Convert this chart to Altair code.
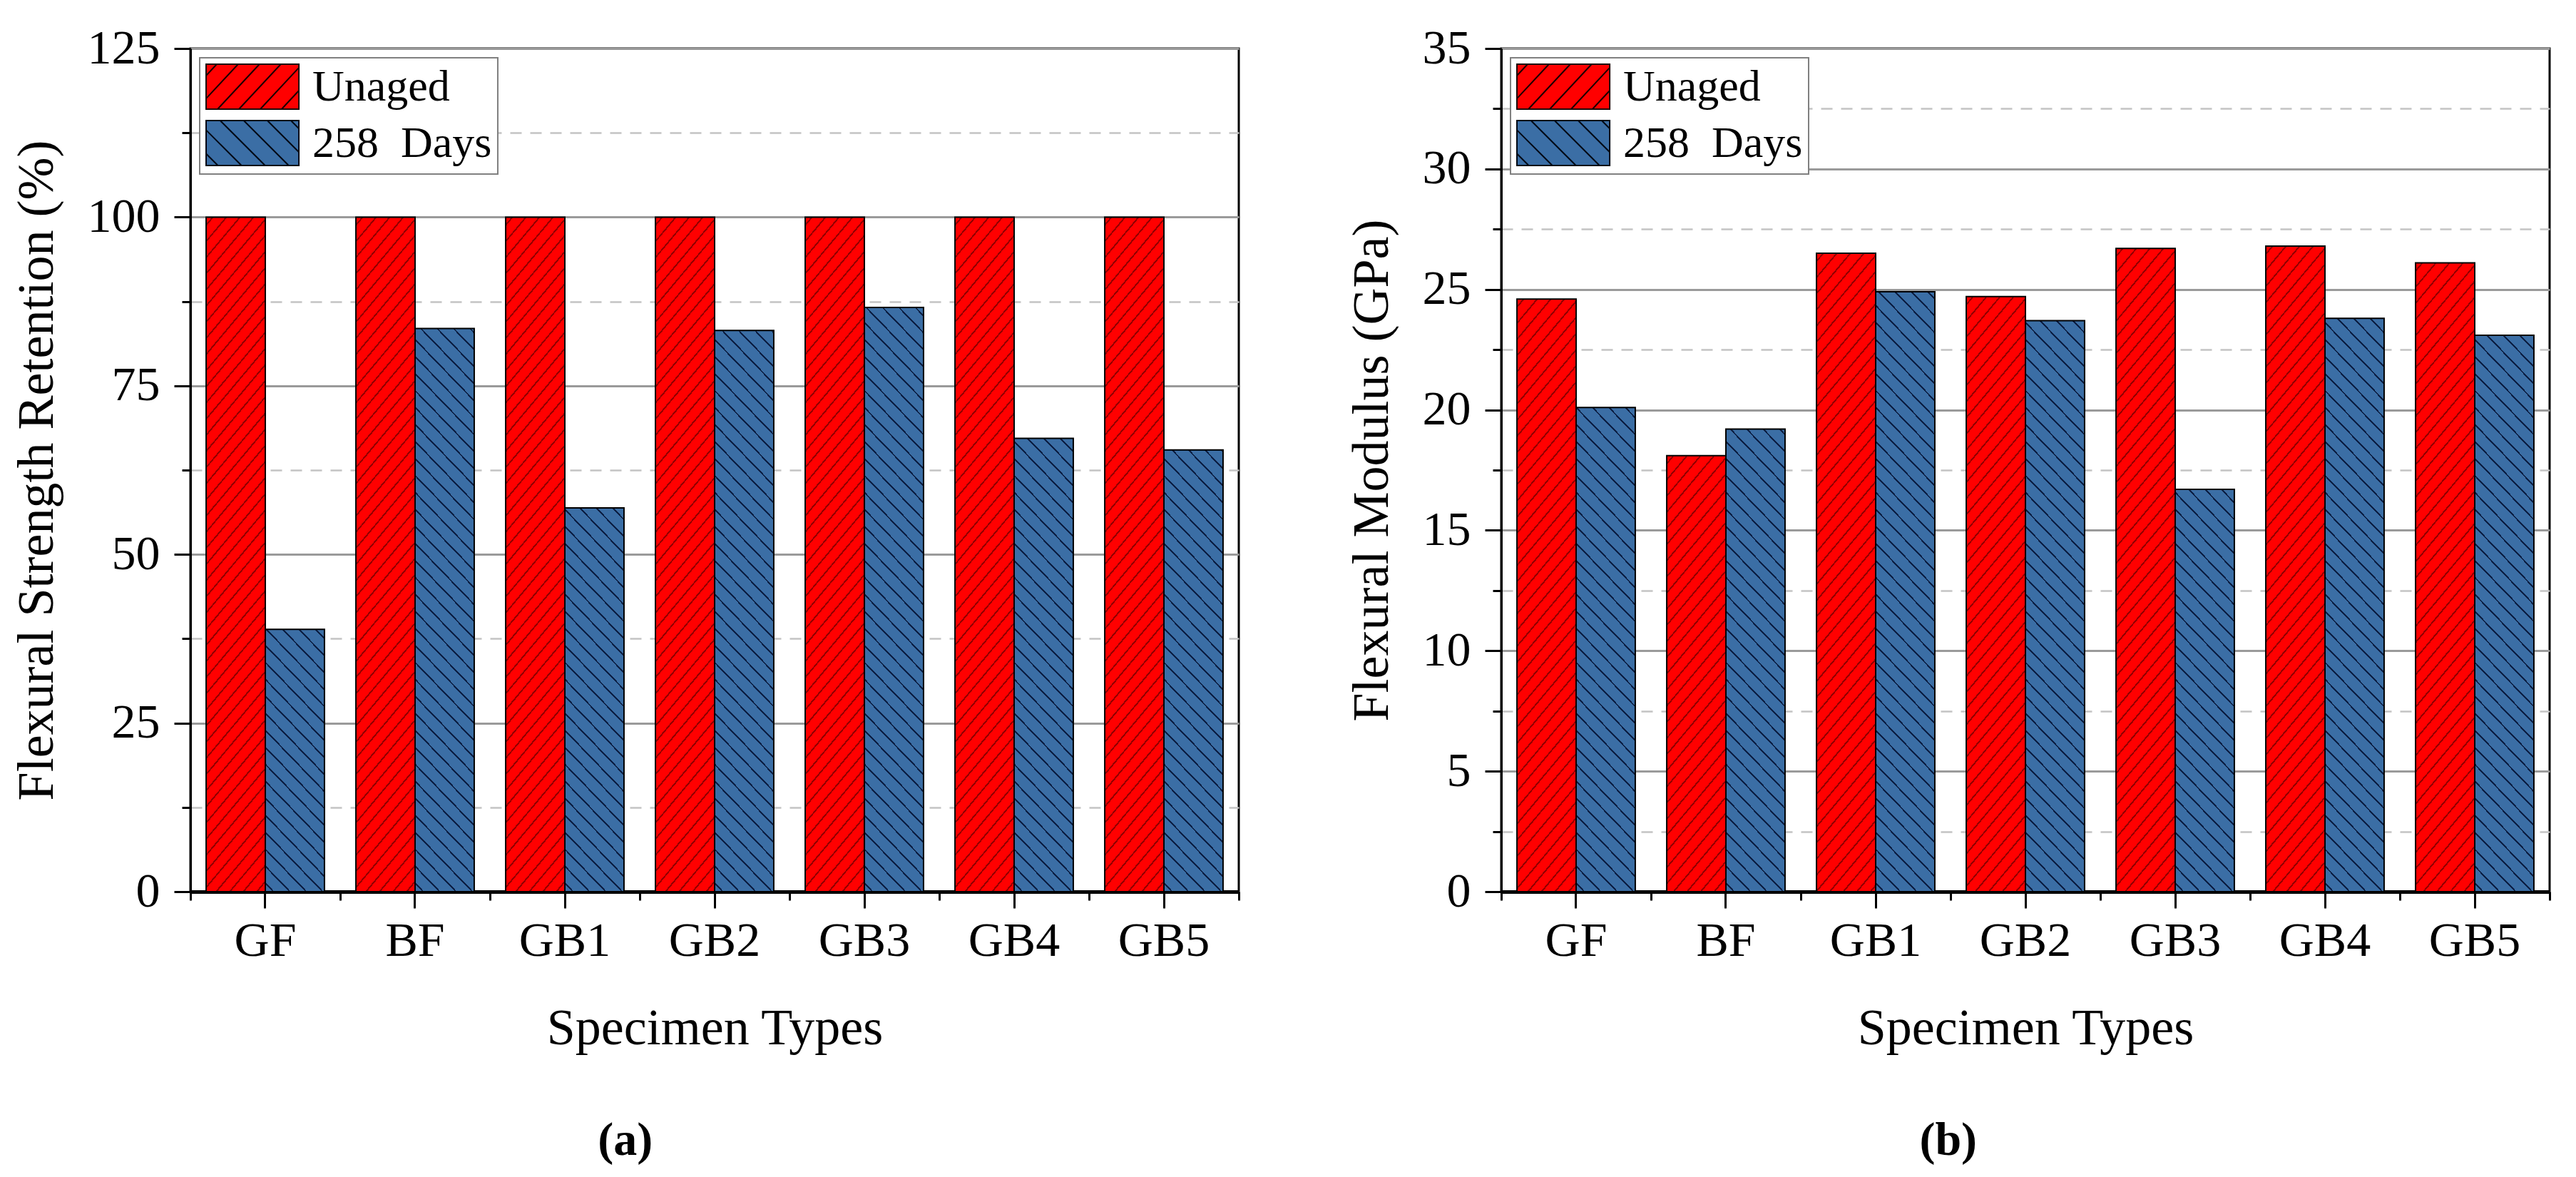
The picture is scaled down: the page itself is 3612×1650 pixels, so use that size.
import math
import altair as alt
import pandas as pd

FONT = "Liberation Serif"

specimens = ["GF", "BF", "GB1", "GB2", "GB3", "GB4", "GB5"]
conditions = ["Unaged", "258\u00a0\u00a0Days"]

retention_unaged = [100, 100, 100, 100, 100, 100, 100]
retention_aged = [38.9, 83.5, 56.9, 83.2, 86.6, 67.2, 65.5]

modulus_unaged = [24.6, 18.1, 26.5, 24.7, 26.7, 26.8, 26.1]
modulus_aged = [20.1, 19.2, 24.9, 23.7, 16.7, 23.8, 23.1]

RED = "#ff0000"
BLUE = "#3b6ea5"
RED_LINE = "#940000"
BLUE_LINE = "#0c1f44"

PLOT_W = 1470
PLOT_H = 1182
PAD_INNER = 0.21


def make_df(unaged, aged):
    rows = []
    for s, u, a in zip(specimens, unaged, aged):
        rows.append({"Specimen": s, "Condition": conditions[0], "Value": u})
        rows.append({"Specimen": s, "Condition": conditions[1], "Value": a})
    return pd.DataFrame(rows)


def hatch_gradient(w, h, base, line, theta_deg, spacing_h, lw, direction):
    th = math.radians(theta_deg)
    s, c = math.sin(th), math.cos(th)
    dmax = w * s + h * c
    k = dmax / (w * w * s * s + h * h * c * c)
    gx, gy = k * w * s, k * h * c
    if direction == "/":
        x1, y1, x2, y2 = 0, 0, gx, gy
    else:
        x1, y1, x2, y2 = 0, 1, gx, 1 - gy
    sp = spacing_h * s
    half = lw / 2.0 / dmax
    stops = [{"offset": 0, "color": base}]
    j = 1
    while True:
        cpos = (j * sp - sp * 0.5) / dmax
        if cpos - half >= 1:
            break
        a = max(0.0, cpos - half)
        b = min(1.0, cpos + half)
        stops += [
            {"offset": round(a, 5), "color": base},
            {"offset": round(a, 5), "color": line},
            {"offset": round(b, 5), "color": line},
            {"offset": round(b, 5), "color": base},
        ]
        j += 1
    stops.append({"offset": 1, "color": base})
    return {"gradient": "linear", "x1": x1, "y1": y1, "x2": x2, "y2": y2, "stops": stops}


def legend_path(theta_deg, spacing_units, slash):
    X0, X1, Y0, Y1 = -1.0, 3.13, -1.0, 1.0
    p = f"M{X0},{Y0}H{X1}V{Y1}H{X0}Z"
    t = math.tan(math.radians(theta_deg))
    run = (Y1 - Y0) / t
    x0 = X0 - run + spacing_units * 0.5
    while x0 < X1:
        xa, xb = x0, x0 + run
        ca, cb = max(xa, X0), min(xb, X1)
        if ca < cb:
            if slash == "/":
                ya = Y1 - (ca - x0) * t
                yb = Y1 - (cb - x0) * t
            else:
                ya = Y0 + (ca - x0) * t
                yb = Y0 + (cb - x0) * t
            p += f"M{ca:.3f},{ya:.3f}L{cb:.3f},{yb:.3f}"
        x0 += spacing_units
    return p


RED_PATH = legend_path(47, 0.95, "/")
BLUE_PATH = legend_path(45, 1.05, "\\")


def panel(df, ymax, major, ytitle, label):
    step = major / 2.0
    n = int(round(ymax / step))
    vals = [round(i * step, 3) for i in range(n + 1)]
    minor_test = f"abs(datum.value % {major}) > 0.001"

    y_axis = alt.Axis(
        values=vals,
        title=ytitle,
        labelExpr=f"abs(datum.value % {major}) < 0.001 ? datum.label : ''",
        tickSize={"condition": {"test": minor_test, "value": 12}, "value": 23},
        gridDash={"condition": {"test": minor_test, "value": [16, 12]}, "value": []},
        gridColor={"condition": {"test": minor_test, "value": "#c4c4c4"}, "value": "#9a9a9a"},
        gridWidth={"condition": {"test": minor_test, "value": 2.5}, "value": 3},
        grid=True,
        domainWidth=3,
        tickWidth=3,
        labelPadding=20,
        titlePadding=34,
    )
    y_enc = alt.Y("Value:Q", scale=alt.Scale(domain=[0, ymax], nice=False, zero=True), axis=y_axis)
    x_axis = alt.Axis(
        title="Specimen Types",
        labelAngle=0,
        tickSize=23,
        tickWidth=3,
        domainWidth=5,
        labelPadding=12,
        titlePadding=53,
        grid=False,
    )
    x_enc = alt.X(
        "Specimen:N",
        sort=specimens,
        scale=alt.Scale(domain=specimens, paddingInner=PAD_INNER, paddingOuter=PAD_INNER / 2),
        axis=x_axis,
    )
    xo_enc = alt.XOffset("Condition:N", sort=conditions, scale=alt.Scale(domain=conditions))

    legend = alt.Legend(
        title=None,
        orient="top-left",
        offset=13,
        padding=8,
        fillColor="white",
        strokeColor="#808080",
        symbolSize=3969,
        symbolStrokeColor="black",
        symbolStrokeWidth=2,
        symbolOpacity=1,
        labelFont=FONT,
        labelFontSize=62,
        labelColor="black",
        labelOffset=85,
        labelLimit=800,
        rowPadding=8,
    )

    legend_pts = alt.Chart(df).mark_point(filled=True, opacity=0, strokeWidth=2).encode(
        x=x_enc,
        xOffset=xo_enc,
        y=y_enc,
        fill=alt.Fill(
            "Condition:N",
            sort=conditions,
            scale=alt.Scale(domain=conditions, range=[RED, BLUE]),
            legend=legend,
        ),
        stroke=alt.Stroke(
            "Condition:N",
            sort=conditions,
            scale=alt.Scale(domain=conditions, range=["#1a0000", "#000814"]),
            legend=legend,
        ),
        shape=alt.Shape(
            "Condition:N",
            sort=conditions,
            scale=alt.Scale(domain=conditions, range=[RED_PATH, BLUE_PATH]),
            legend=legend,
        ),
    )

    bar_w = PLOT_W / len(specimens) * (1 - PAD_INNER) / 2.0
    hatch_layers = []
    for _, row in df.iterrows():
        h = row["Value"] / ymax * PLOT_H
        if row["Condition"] == conditions[0]:
            grad = hatch_gradient(bar_w, h, RED, RED_LINE, 50, 19, 2.0, "/")
        else:
            grad = hatch_gradient(bar_w, h, BLUE, BLUE_LINE, 46, 23, 2.0, "\\")
        layer = (
            alt.Chart(df)
            .transform_filter(
                (alt.datum.Specimen == row["Specimen"]) & (alt.datum.Condition == row["Condition"])
            )
            .mark_bar(fill=grad, stroke="black", strokeWidth=2)
            .encode(x=x_enc, xOffset=xo_enc, y=y_enc)
        )
        hatch_layers.append(layer)

    bars = alt.layer(*hatch_layers, legend_pts)

    minor_x = alt.Chart(df).mark_point(opacity=0).encode(
        x=alt.X(
            "Specimen:N",
            sort=specimens,
            scale=alt.Scale(domain=specimens, paddingInner=0, paddingOuter=0),
            axis=alt.Axis(
                orient="bottom",
                tickBand="extent",
                labels=False,
                domain=False,
                title=None,
                tickSize=12,
                tickWidth=3,
                grid=False,
            ),
        )
    )

    return (
        alt.layer(bars, minor_x)
        .resolve_scale(x="independent")
        .resolve_axis(x="independent")
        .properties(
            width=PLOT_W,
            height=PLOT_H,
            title=alt.TitleParams(
                text=label,
                orient="bottom",
                anchor="middle",
                frame="bounds",
                font=FONT,
                fontSize=66,
                fontWeight="bold",
                color="black",
                offset=90,
            ),
        )
    )


left = panel(make_df(retention_unaged, retention_aged), 125, 25, "Flexural Strength Retention (%)", "(a)")
right = panel(make_df(modulus_unaged, modulus_aged), 35, 5, "Flexural Modulus (GPa)", "(b)")

chart = (
    alt.hconcat(left, right, spacing=145)
    .resolve_scale(fill="independent", stroke="independent", shape="independent")
    .resolve_legend(fill="independent", stroke="independent", shape="independent")
    .properties(padding={"left": 5, "top": 24, "right": 0, "bottom": 0})
    .configure(background="white")
    .configure_view(stroke="black", strokeWidth=3)
    .configure_axis(
        labelFont=FONT,
        labelFontSize=68,
        labelColor="black",
        titleFont=FONT,
        titleFontSize=72,
        titleFontWeight="normal",
        titleColor="black",
        domainColor="black",
        tickColor="black",
    )
    .configure_legend(strokeWidth=2)
)

chart.save("out.html", embed_options={"renderer": "svg", "actions": False})
